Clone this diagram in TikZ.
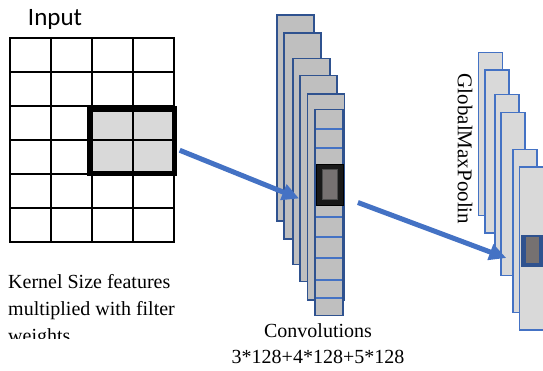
\documentclass[tikz,border=0pt]{standalone}
\usepackage{fontspec}
\setmainfont{Liberation Serif}
\newfontfamily\calibri{Carlito}
\usetikzlibrary{arrows.meta}
\definecolor{convgray}{HTML}{BFBFBF}
\definecolor{poolgray}{HTML}{D9D9D9}
\definecolor{darkblue}{HTML}{2F528F}
\definecolor{midblue}{HTML}{4472C4}
\definecolor{slate}{HTML}{767171}

\begin{document}
\begin{tikzpicture}[x=1pt,y=-1pt,
  convsheet/.style={draw=darkblue,fill=convgray,line width=1.8pt,inner sep=0pt,minimum width=37pt,minimum height=206pt},
  poolsheet/.style={draw=midblue,fill=poolgray,line width=1.5pt,inner sep=0pt,minimum width=24pt,minimum height=163pt},
  flow/.style={midblue,line width=5pt,-{Triangle[length=17pt,width=16pt]}},
  txt/.style={font=\fontsize{20}{27}\selectfont,inner sep=0pt}]
\useasboundingbox (0,0) rectangle (543,370);

% input matrix with the kernel window
\node[font=\calibri\fontsize{25}{25}\selectfont,inner sep=0pt] (input) at (55,19) {Input};
\node[fill=poolgray,inner sep=0pt,minimum width=84.5pt,minimum height=64.5pt] (kernel) at (132.25,141.25) {};
\foreach \x in {10,51,92,133,174}
  \draw[line width=1.6pt,line cap=rect] (\x,38) -- (\x,242);
\foreach \y in {38,72,106,140,174,208,242}
  \draw[line width=1.6pt,line cap=rect] (10,\y) -- (174,\y);
\draw[line width=5.5pt] (kernel.north west) rectangle (kernel.south east);

% convolution feature maps
\foreach \n/\cx/\cy in {1/295.5/118,2/302.5/136,3/311.5/161.5,4/318.5/178.5,5/326/197}
  \node[convsheet] (conv\n) at (\cx,\cy) {};
\node[convsheet,minimum width=28pt] (conv6) at (329,212.5) {};
\foreach \y in {129,148,217,237,258,280,298}
  \draw[midblue,line width=1.3pt] (316,\y) -- (342,\y);
\node[fill=black!90,draw=black,line width=1pt,inner sep=0pt,minimum width=27pt,minimum height=41pt] (convmax) at (329.5,184.5) {};
\node[fill=slate,draw=black!70,inner sep=0pt,minimum width=15pt,minimum height=30pt] at (convmax) {};

% pooled maps
\foreach \n/\cx/\cy in {1/490.5/134,2/497/151.5,3/507/176,4/513/194,5/525/231,6/531.5/248.5}
  \node[poolsheet] (pool\n) at (\cx,\cy) {};
\node[fill=darkblue,inner sep=0pt,minimum width=23pt,minimum height=32pt] (poolmax) at (532,251) {};
\node[fill=slate,inner sep=0pt,minimum width=13pt,minimum height=26pt] at (532.5,250) {};

\draw[flow] ([shift={(5pt,-9pt)}]kernel.east) -- ([yshift=-20pt]conv4.west);
\draw[flow] ([shift={(14pt,10pt)}]conv6.east) -- ([shift={(6pt,-64pt)}]pool4.west);

\begin{scope}
  \clip (0,0) rectangle (300,338);
  \node[txt,anchor=base west,align=left] (kernelnote) at (8,342) {Kernel Size features\\multiplied with filter\\weights};
\end{scope}
\node[txt,font=\fontsize{20}{26}\selectfont,anchor=base,align=center] (convnote) at (318,363) {Convolutions\\3*128+4*128+5*128};
\node[txt,font=\fontsize{21}{21}\selectfont,rotate=-90] (poolnote) at (465,149) {GlobalMaxPoolin};
\end{tikzpicture}
\end{document}
